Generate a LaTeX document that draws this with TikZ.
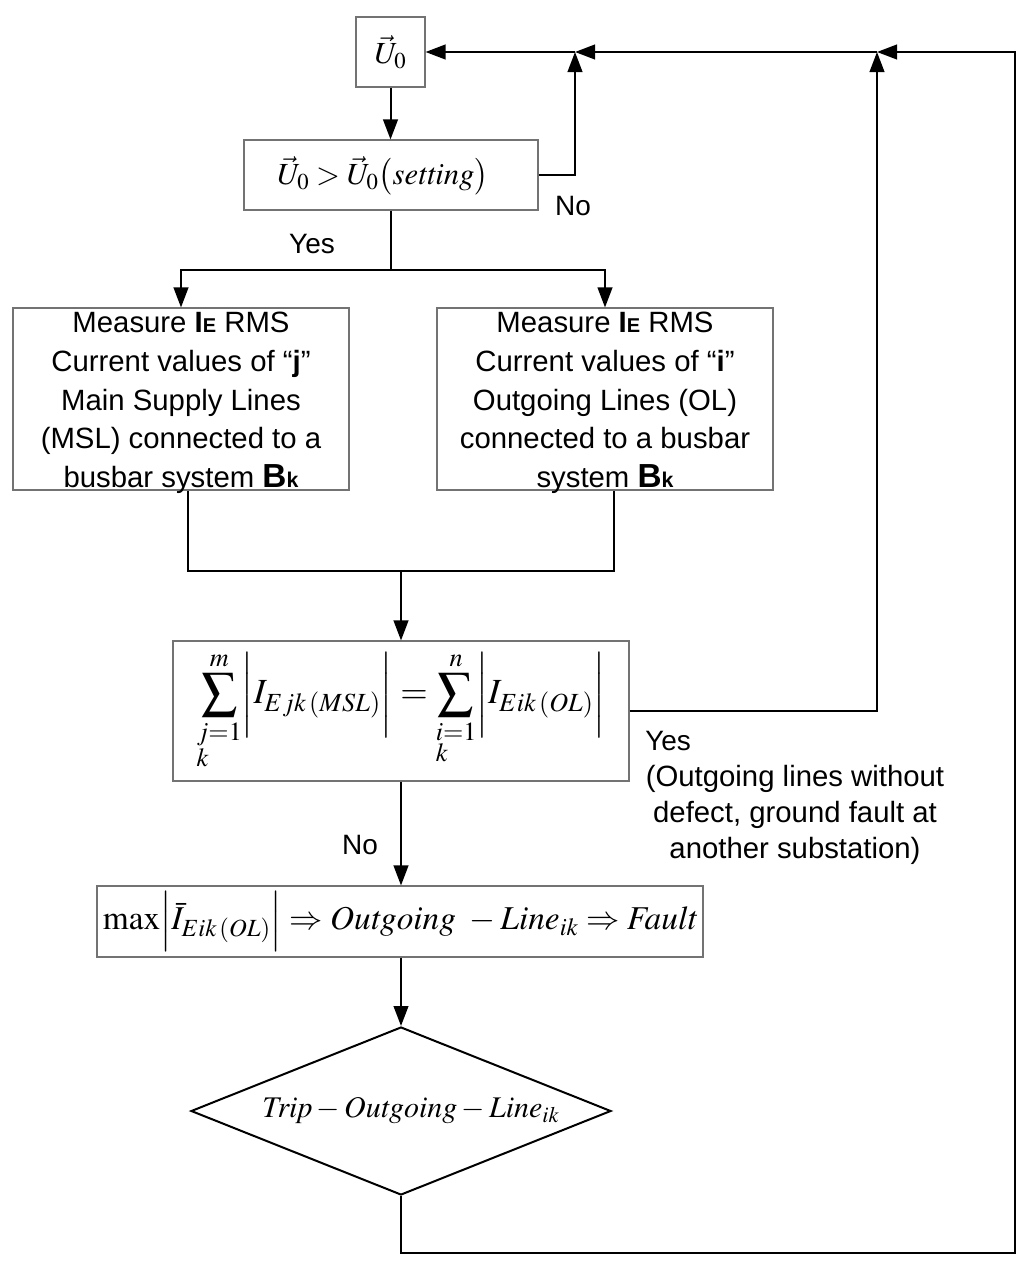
\documentclass[tikz,border=0pt]{standalone}
\usepackage{amsmath}
\usepackage{mathptmx}
\usepackage[no-math]{fontspec}
\setmainfont{Liberation Sans}
\usetikzlibrary{arrows.meta,shapes.geometric}
\newcommand{\myIE}{{\bfseries I\fontsize{15}{15}\selectfont E}}
\newcommand{\myBk}{{\bfseries\fontsize{25}{25}\selectfont B\fontsize{16}{16}\selectfont k}}
\begin{document}
\begin{tikzpicture}[x=0.75pt,y=-0.75pt,
  box/.style={draw=black!55, line width=0.8pt, inner sep=0pt, align=center},
  conn/.style={line width=1.5pt, black},
  arr/.style={conn, -{Triangle[length=15pt,width=11pt]}},
  txt/.style={font=\fontsize{22}{29}\selectfont, align=center, inner sep=0pt},
  lbl/.style={font=\fontsize{21}{27}\selectfont, inner sep=0pt}]
\useasboundingbox (0,0) rectangle (1024,1267);
\fill[white] (0,0) rectangle (1024,1267);

\node[box, minimum width=51.75pt, minimum height=52.5pt, font=\fontsize{23}{26}\selectfont] (U0) at (390.5,52) {$\vec{U}_0$};
\node[box, minimum width=220.5pt, minimum height=52.5pt] (S) at (391,175) {};
\node[font=\fontsize{23}{26}\selectfont, inner sep=0pt] (St) at (383,176) {$\vec{U}_0 > \vec{U}_0\bigl(\mathit{setting}\bigr)$};

\node[box, minimum width=252pt, minimum height=136.5pt] (L) at (181,399) {};
\node[txt] (Lt) at (181,403)
  {Measure \myIE{} RMS\\Current values of “\textbf{j}”\\Main Supply Lines\\(MSL) connected to a\\busbar system \myBk};
\node[box, minimum width=252pt, minimum height=136.5pt] (R) at (605,399) {};
\node[txt] (Rt) at (605,403)
  {Measure \myIE{} RMS\\Current values of “\textbf{i}”\\Outgoing Lines (OL)\\connected to a busbar\\system \myBk};

\node[box, minimum width=342pt, minimum height=105pt, font=\fontsize{26.5}{30}\selectfont] (Sum) at (401,711)
  {$\displaystyle\sum_{\begin{subarray}{l}j=1\\k\end{subarray}}^{m}\biggl|I_{Ejk\,(MSL)}\biggr| = \sum_{\begin{subarray}{l}i=1\\k\end{subarray}}^{n}\biggl|I_{Eik\,(OL)}\biggr|$};

\node[box, minimum width=454.5pt, minimum height=53.25pt, font=\fontsize{25}{28}\selectfont] (Max) at (400,921.5)
  {$\mathrm{max}\Bigl|\bar{I}_{Eik\,(OL)}\Bigr| \Rightarrow \mathit{Outgoing}\ -\mathit{Line}_{ik} \Rightarrow \mathit{Fault}$};

\node[draw=black, line width=1.5pt, diamond, aspect=2.5, inner sep=0pt, minimum width=315pt, minimum height=126pt] (D) at (401,1111) {};
\node[font=\fontsize{22.5}{26}\selectfont, inner sep=0pt] (Dt) at (411,1111) {$\mathit{Trip}-\mathit{Outgoing}-\mathit{Line}_{ik}$};

\coordinate (j1) at (575,52);
\coordinate (j2) at (877,52);
\coordinate (tr) at (1015,52);
\coordinate (br) at (1015,1253);
\coordinate (bl) at (401,1253);
\coordinate (split) at (391,270);
\coordinate (mid) at (401,571);

\draw[arr] (U0.south) -- (U0.south |- S.north);
\draw[arr] (S.east) -| (j1);
\draw[arr] (j1) -- (U0.east);
\draw[arr] (j2) -- (j1);
\draw[arr] (D.south) -- (bl) -- (br) -- (tr) -- (j2);
\draw[arr] (Sum.east) -| (j2);

\draw[conn] (S.south) -- (split);
\draw[arr] (split) -| (L.north);
\draw[arr] (split) -| (R.north);

\draw[conn] ([xshift=5.25pt]L.south) |- (mid) -| ([xshift=6.75pt]R.south);
\draw[arr] (mid) -- (Sum.north);
\draw[arr] (Sum.south) -- (Sum.south |- Max.north);
\draw[arr] (D.north |- Max.south) -- (D.north);

\node[lbl] (no1) at (573,206) {No};
\node[lbl] (yes1) at (312,244) {Yes};
\node[lbl, anchor=west] (yes2) at (645,741) {Yes};
\node[lbl, align=center, font=\fontsize{22}{27}\selectfont] (note) at (795,815) {(Outgoing lines without\\defect, ground fault at\\another substation)};
\node[lbl] (no2) at (360,845) {No};
\end{tikzpicture}
\end{document}
